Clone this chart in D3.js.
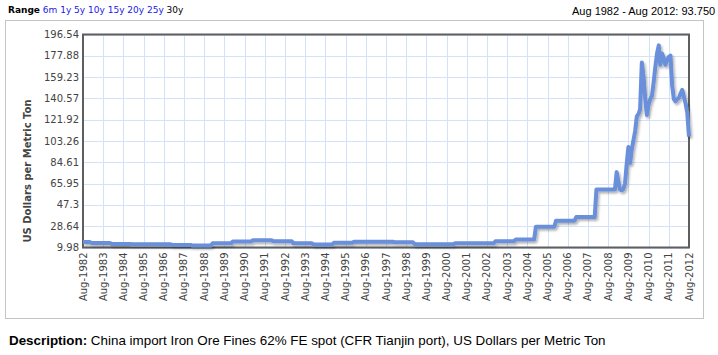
<!DOCTYPE html>
<html lang="en">
<head>
    <meta charset="UTF-8">
    <title>China import Iron Ore Fines 62% FE spot</title>
    <script src="https://d3js.org/d3.v7.min.js"></script>
    <style>
        body { margin: 0; background: #fff; }
        svg { display: block; }
        .tick-label { font-family: "DejaVu Sans", Verdana, sans-serif; font-size: 10px; fill: #444; }
        .axis-title { font-family: "DejaVu Sans", Verdana, sans-serif; font-size: 10px; font-weight: bold; fill: #444; }
        .range-text { font-family: "DejaVu Sans", Verdana, sans-serif; font-size: 9px; }
        .info-text { font-family: "Liberation Sans", Arial, sans-serif; font-size: 11px; fill: #000; }
        .desc-text { font-family: "Liberation Sans", Arial, sans-serif; font-size: 13.4px; fill: #000; }
    </style>
</head>
<body>
<svg id="chart" width="718" height="355"></svg>
<script>
    // Monthly price, US Dollars per Metric Ton, starting Aug 1982 (one row per year)
    const startDate = new Date(1982, 7, 1);
    const prices = [
        [14.8, 14.8, 14.8, 14.8, 14.8],                                              // 1982 (Aug-Dec)
        [14.0, 14.0, 14.0, 14.0, 14.0, 14.0, 14.0, 14.0, 14.0, 14.0, 14.0, 14.0],    // 1983
        [13.0, 13.0, 13.0, 13.0, 13.0, 13.0, 13.0, 13.0, 13.0, 13.0, 13.0, 13.0],    // 1984
        [12.9, 12.9, 12.9, 12.9, 12.9, 12.9, 12.9, 12.9, 12.9, 12.9, 12.9, 12.9],    // 1985
        [12.8, 12.8, 12.8, 12.8, 12.8, 12.8, 12.8, 12.8, 12.8, 12.8, 12.8, 12.8],    // 1986
        [12.2, 12.2, 12.2, 12.2, 12.2, 12.2, 12.2, 12.2, 12.2, 12.2, 12.2, 12.2],    // 1987
        [11.7, 11.7, 11.7, 11.7, 11.7, 11.7, 11.7, 11.7, 11.7, 11.7, 11.7, 11.7],    // 1988
        [13.7, 13.7, 13.7, 13.7, 13.7, 13.7, 13.7, 13.7, 13.7, 13.7, 13.7, 13.7],    // 1989
        [15.2, 15.2, 15.2, 15.2, 15.2, 15.2, 15.2, 15.2, 15.2, 15.2, 15.2, 15.2],    // 1990
        [16.4, 16.4, 16.4, 16.4, 16.4, 16.4, 16.4, 16.4, 16.4, 16.4, 16.4, 16.4],    // 1991
        [15.4, 15.4, 15.4, 15.4, 15.4, 15.4, 15.4, 15.4, 15.4, 15.4, 15.4, 15.4],    // 1992
        [13.6, 13.6, 13.6, 13.6, 13.6, 13.6, 13.6, 13.6, 13.6, 13.6, 13.6, 13.6],    // 1993
        [12.6, 12.6, 12.6, 12.6, 12.6, 12.6, 12.6, 12.6, 12.6, 12.6, 12.6, 12.6],    // 1994
        [14.1, 14.1, 14.1, 14.1, 14.1, 14.1, 14.1, 14.1, 14.1, 14.1, 14.1, 14.1],    // 1995
        [15.0, 15.0, 15.0, 15.0, 15.0, 15.0, 15.0, 15.0, 15.0, 15.0, 15.0, 15.0],    // 1996
        [15.0, 15.0, 15.0, 15.0, 15.0, 15.0, 15.0, 15.0, 15.0, 15.0, 15.0, 15.0],    // 1997
        [14.6, 14.6, 14.6, 14.6, 14.6, 14.6, 14.6, 14.6, 14.6, 14.6, 14.6, 14.6],    // 1998
        [12.9, 12.9, 12.9, 12.9, 12.9, 12.9, 12.9, 12.9, 12.9, 12.9, 12.9, 12.9],    // 1999
        [12.9, 12.9, 12.9, 12.9, 12.9, 12.9, 12.9, 12.9, 12.9, 12.9, 12.9, 12.9],    // 2000
        [13.6, 13.6, 13.6, 13.6, 13.6, 13.6, 13.6, 13.6, 13.6, 13.6, 13.6, 13.6],    // 2001
        [13.6, 13.6, 13.6, 13.6, 13.6, 13.6, 13.6, 13.6, 13.6, 13.6, 13.6, 13.6],    // 2002
        [15.5, 15.5, 15.5, 15.5, 15.5, 15.5, 15.5, 15.5, 15.5, 15.5, 15.5, 15.5],    // 2003
        [16.9, 16.9, 16.9, 16.9, 16.9, 16.9, 16.9, 16.9, 16.9, 16.9, 16.9, 16.9],    // 2004
        [28.1, 28.1, 28.1, 28.1, 28.1, 28.1, 28.1, 28.1, 28.1, 28.1, 28.1, 28.1],    // 2005
        [33.5, 33.5, 33.5, 33.5, 33.5, 33.5, 33.5, 33.5, 33.5, 33.5, 33.5, 33.5],    // 2006
        [36.6, 36.6, 36.6, 36.6, 36.6, 36.6, 36.6, 36.6, 36.6, 36.6, 36.6, 36.6],    // 2007
        [60.8, 60.8, 60.8, 60.8, 60.8, 60.8, 60.8, 60.8, 60.8, 60.8, 60.8, 60.8],    // 2008
        [76.0, 68.0, 61.0, 60.0, 61.0, 66.0, 83.0, 98.0, 84.0, 96.0, 104.0, 112.0],  // 2009
        [125.0, 127.0, 131.0, 172.0, 160.0, 141.0, 126.0, 135.0, 140.0, 143.0, 155.0, 168.0], // 2010
        [180.0, 187.0, 170.0, 180.0, 176.0, 170.0, 174.0, 177.0, 178.0, 152.0, 140.0, 138.0], // 2011
        [140.0, 141.0, 145.0, 148.0, 142.0, 136.0, 128.0, 107.0]                      // 2012 (Jan-Aug)
    ];
    const yTicks = [9.98, 28.64, 47.3, 65.95, 84.61, 103.26, 121.92, 140.57, 159.23, 177.88, 196.54];
    const tickYears = d3.range(1982, 2013);
    const rangeLinks = ["6m", "1y", "5y", "10y", "15y", "20y", "25y", "30y"];
    const activeRange = "30y";
    const rangeInfo = "Aug 1982 - Aug 2012: 93.750";
    const yTitle = "US Dollars per Metric Ton";
    const descLabel = "Description:";
    const descText = " China import Iron Ore Fines 62% FE spot (CFR Tianjin port), US Dollars per Metric Ton";

    // flatten to monthly points
    const data = prices.flat().map((v, i) => ({ date: d3.timeMonth.offset(startDate, i), value: v }));

    const plot = { left: 83, right: 689, top: 34.5, bottom: 247.5 };
    const svg = d3.select("#chart");

    const x = d3.scaleTime()
        .domain([startDate, new Date(2012, 7, 1)])
        .range([plot.left, plot.right]);
    const y = d3.scaleLinear()
        .domain([yTicks[0], yTicks[yTicks.length - 1]])
        .range([plot.bottom, plot.top]);

    // outer panel
    svg.append("rect")
        .attr("x", 5.5).attr("y", 20.5)
        .attr("width", 698).attr("height", 298)
        .attr("fill", "#fff").attr("stroke", "#c4c4c4");

    // grid
    const tickDates = tickYears.map(yr => new Date(yr, 7, 1));
    svg.append("g").selectAll("line.v")
        .data(tickDates)
        .join("line")
        .attr("x1", d => Math.round(x(d)) + 0.5).attr("x2", d => Math.round(x(d)) + 0.5)
        .attr("y1", plot.top).attr("y2", plot.bottom)
        .attr("stroke", "#d3e2f8").attr("stroke-width", 1);
    svg.append("g").selectAll("line.h")
        .data(yTicks)
        .join("line")
        .attr("x1", plot.left).attr("x2", plot.right)
        .attr("y1", d => Math.round(y(d)) + 0.5).attr("y2", d => Math.round(y(d)) + 0.5)
        .attr("stroke", "#d3e2f8").attr("stroke-width", 1);

    // shadow filter for the line
    const defs = svg.append("defs");
    const f = defs.append("filter").attr("id", "shadow")
        .attr("x", "-5%").attr("y", "-5%").attr("width", "110%").attr("height", "110%");
    f.append("feDropShadow")
        .attr("dx", 1.5).attr("dy", 2).attr("stdDeviation", 1.2)
        .attr("flood-color", "#000").attr("flood-opacity", 0.3);

    // plot border
    svg.append("rect")
        .attr("x", plot.left).attr("y", plot.top)
        .attr("width", plot.right - plot.left).attr("height", plot.bottom - plot.top)
        .attr("fill", "none").attr("stroke", "#5f5f5f").attr("stroke-width", 2);

    // price line
    const line = d3.line()
        .x(d => x(d.date))
        .y(d => y(d.value));
    svg.append("path")
        .datum(data)
        .attr("d", line)
        .attr("fill", "none")
        .attr("stroke", "#6a8fdb")
        .attr("stroke-width", 4)
        .attr("stroke-linejoin", "round")
        .attr("filter", "url(#shadow)");

    // y tick labels
    svg.append("g").selectAll("text")
        .data(yTicks)
        .join("text")
        .attr("class", "tick-label")
        .attr("x", plot.left - 4)
        .attr("y", d => y(d))
        .attr("dy", "0.35em")
        .attr("text-anchor", "end")
        .text(d => d);

    // x tick labels (rotated)
    svg.append("g").selectAll("text")
        .data(tickDates)
        .join("text")
        .attr("class", "tick-label")
        .attr("transform", d => `translate(${x(d)},${plot.bottom + 5}) rotate(-90)`)
        .attr("dy", "0.35em")
        .attr("text-anchor", "end")
        .text(d => d3.timeFormat("%b-%Y")(d));

    // y axis title
    svg.append("text")
        .attr("class", "axis-title")
        .attr("transform", "translate(31,171) rotate(-90)")
        .attr("text-anchor", "middle")
        .text(yTitle);

    // range selector
    const rt = svg.append("text").attr("class", "range-text").attr("x", 8).attr("y", 13);
    rt.append("tspan").attr("font-weight", "bold").attr("fill", "#000").text("Range");
    rangeLinks.forEach(r => {
        rt.append("tspan").attr("fill", r === activeRange ? "#000" : "#1a1ae6").text(" " + r);
    });

    // range info (top right)
    svg.append("text")
        .attr("class", "info-text")
        .attr("x", 572).attr("y", 15)
        .text(rangeInfo);

    // description
    const dt = svg.append("text").attr("class", "desc-text").attr("x", 9).attr("y", 345);
    dt.append("tspan").attr("font-weight", "bold").text(descLabel);
    dt.append("tspan").text(descText);
</script>
</body>
</html>
